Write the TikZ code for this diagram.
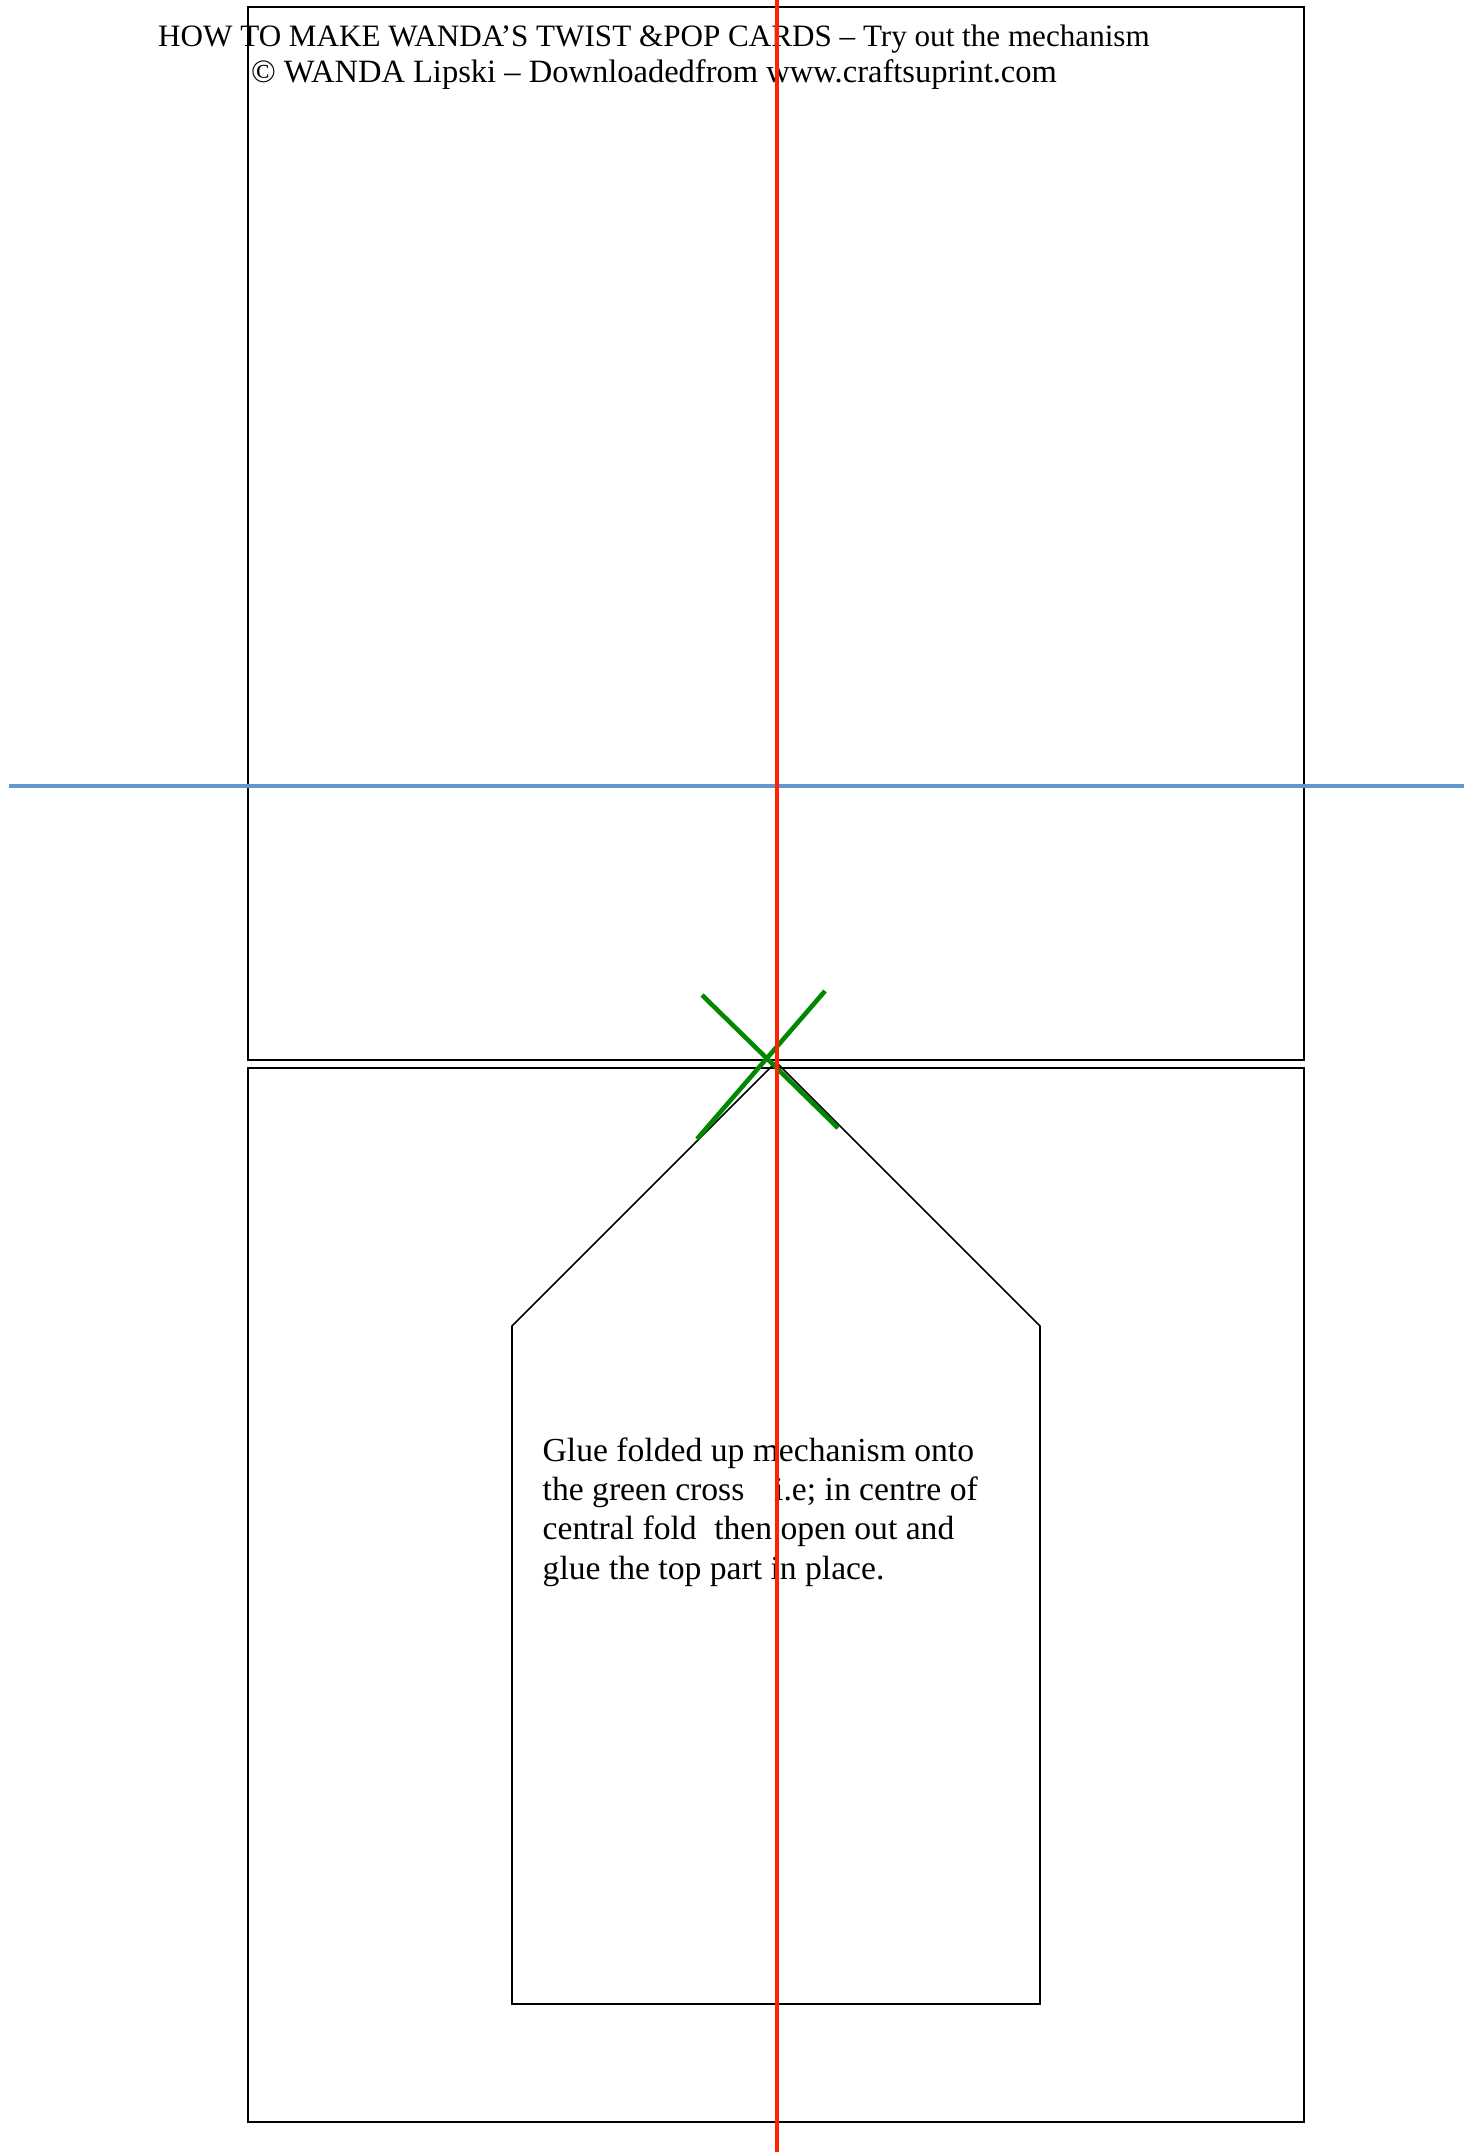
\documentclass[tikz,border=0pt]{standalone}
\usepackage{fontspec}
\setmainfont{Liberation Serif}
\usepackage{tikz}

\definecolor{foldblue}{RGB}{99,150,204}
\definecolor{foldred}{RGB}{255,34,0}
\definecolor{crossgreen}{RGB}{0,136,0}

\begin{document}
\begin{tikzpicture}[
    x=0.01cm, y=-0.01cm,
    card/.style={draw=black, line width=0.65pt},
    tag/.style={draw=black, line width=0.45pt},
    fold/.style={line width=1.3pt},
    heading/.style={inner sep=0pt, anchor=base, font=\fontsize{9}{10.3}\selectfont},
    note/.style={inner sep=0pt, align=left, anchor=base west, font=\fontsize{9.56}{11.1}\selectfont},
]
    \useasboundingbox (0,0) rectangle (1464,2152);

    % the two halves of the card
    \draw[card] (248,7) rectangle (1304,1060);
    \draw[card] (248,1068) rectangle (1304,2122);

    \node[heading, font=\fontsize{8.85}{10.3}\selectfont] (title) at (654,47) {HOW TO MAKE WANDA’S TWIST \&POP CARDS – Try out the mechanism};
    \node[heading, font=\fontsize{9.25}{10.3}\selectfont] (credit) at (654,83) {© WANDA Lipski – Downloadedfrom www.craftsuprint.com};

    % mechanism outline
    \coordinate (apex) at (776,1062);
    \draw[tag] (apex) -- (512,1326) -- (512,2004) -- (1040,2004) -- (1040,1326) -- cycle;

    % base of a multi-line node is its last line
    \node[note] (howto) at (542,1579) {Glue folded up mechanism onto\\the green cross\hspace{8.5pt}i.e; in centre of\\central fold\hspace{5pt}then open out and\\glue the top part in place.};

    % fold lines and glue mark
    \draw[fold, foldblue] (9,786) -- (1464,786);
    \draw[fold, crossgreen] (702,995) -- (838,1128);
    \draw[fold, crossgreen] (825,991) -- (697,1139);
    \draw[fold, foldred] (777,0) -- (777,2152);
\end{tikzpicture}
\end{document}
